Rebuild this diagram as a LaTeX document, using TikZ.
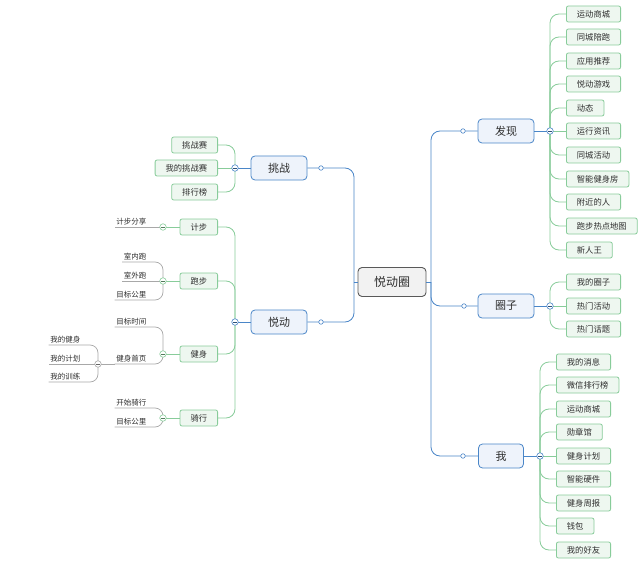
\documentclass[tikz,border=0pt]{standalone}
\usepackage{fontspec}
\setmainfont{Noto Sans CJK SC}
\usepackage{xcolor}
\usepackage{tikz}
\usetikzlibrary{positioning}

\definecolor{MapBlue}{HTML}{4A86C8}
\definecolor{BlueFill}{HTML}{EEF3FB}
\definecolor{MapGreen}{HTML}{88CC9A}
\definecolor{GreenFill}{HTML}{EEF7F0}
\definecolor{MapGray}{HTML}{A8A8A8}
\definecolor{TextGray}{HTML}{2E2E2E}

\tikzset{
	rootbox/.style={draw=black!65, fill=black!5, rounded corners=4pt, line width=0.9pt, text=TextGray,
		font=\fontsize{12}{12}\selectfont, inner xsep=16pt, minimum height=29pt},
	mainbox/.style={draw=MapBlue, fill=BlueFill, rounded corners=4pt, line width=0.8pt, text=TextGray,
		font=\fontsize{11}{11}\selectfont, inner xsep=17pt, minimum height=24pt},
	leafbox/.style={draw=MapGreen, fill=GreenFill, rounded corners=2pt, line width=0.8pt, text=TextGray,
		font=\fontsize{8.3}{8.3}\selectfont, inner xsep=10.5pt, minimum height=16pt},
	lined/.style={font=\fontsize{7.5}{7.5}\selectfont, inner sep=1.5pt, text=TextGray},
	blueline/.style={draw=MapBlue, line width=0.8pt, rounded corners=9pt},
	greenline/.style={draw=MapGreen, line width=0.8pt, rounded corners=9pt},
	grayline/.style={draw=MapGray, line width=0.7pt, rounded corners=8pt},
	knob/.style={circle, draw=#1, fill=white, line width=0.6pt, minimum size=6.5pt, inner sep=0pt,
		path picture={\draw[#1!60!black, line width=0.5pt]
			([xshift=-1.7pt]path picture bounding box.center) -- ([xshift=1.7pt]path picture bounding box.center);}},
	dot/.style={circle, draw=MapBlue, fill=white, line width=0.6pt, minimum size=4.5pt, inner sep=0pt},
}

\begin{document}
\begin{tikzpicture}[x=1pt, y=-1pt]

	\fill[white] (0,0) rectangle (640,567);
	\useasboundingbox (0,0) rectangle (640,567);

	% centre and main topics
	\node[rootbox] (root) at (392,282) {悦动圈};
	\node[mainbox] (faxian) at (506,131) {发现};
	\node[mainbox] (quanzi) at (506,306) {圈子};
	\node[mainbox] (wo) at (501,456) {我};
	\node[mainbox] (tiaozhan) at (279,168) {挑战};
	\node[mainbox] (yuedong) at (279,322) {悦动};

	\coordinate (rtrunk) at (431,282);
	\coordinate (ltrunk) at (354,282);

	% 发现
	\node[leafbox, anchor=west] (f1) at (566,14) {运动商城};
	\node[leafbox, anchor=west] (f2) at (566,37) {同城陪跑};
	\node[leafbox, anchor=west] (f3) at (566,61) {应用推荐};
	\node[leafbox, anchor=west] (f4) at (566,84) {悦动游戏};
	\node[leafbox, anchor=west] (f5) at (566,108) {动态};
	\node[leafbox, anchor=west] (f6) at (566,131) {运行资讯};
	\node[leafbox, anchor=west] (f7) at (566,155) {同城活动};
	\node[leafbox, anchor=west] (f8) at (566,179) {智能健身房};
	\node[leafbox, anchor=west] (f9) at (566,202) {附近的人};
	\node[leafbox, anchor=west] (f10) at (566,226) {跑步热点地图};
	\node[leafbox, anchor=west] (f11) at (566,250) {新人王};

	% 圈子
	\node[leafbox, anchor=west] (q1) at (566,282) {我的圈子};
	\node[leafbox, anchor=west] (q2) at (566,306) {热门活动};
	\node[leafbox, anchor=west] (q3) at (566,329) {热门话题};

	% 我
	\node[leafbox, anchor=west] (w1) at (556,362) {我的消息};
	\node[leafbox, anchor=west] (w2) at (556,385) {微信排行榜};
	\node[leafbox, anchor=west] (w3) at (556,409) {运动商城};
	\node[leafbox, anchor=west] (w4) at (556,432) {勋章馆};
	\node[leafbox, anchor=west] (w5) at (556,456) {健身计划};
	\node[leafbox, anchor=west] (w6) at (556,479) {智能硬件};
	\node[leafbox, anchor=west] (w7) at (556,503) {健身周报};
	\node[leafbox, anchor=west] (w8) at (556,526) {钱包};
	\node[leafbox, anchor=west] (w9) at (556,550) {我的好友};

	% 挑战
	\node[leafbox, anchor=east] (t1) at (218,145) {挑战赛};
	\node[leafbox, anchor=east] (t2) at (218,168) {我的挑战赛};
	\node[leafbox, anchor=east] (t3) at (218,192) {排行榜};

	% 悦动
	\node[leafbox, anchor=east] (jibu) at (218,227) {计步};
	\node[leafbox, anchor=east] (paobu) at (218,281) {跑步};
	\node[leafbox, anchor=east] (jianshen) at (218,354) {健身};
	\node[leafbox, anchor=east] (qixing) at (218,418) {骑行};

	% underlined sub-topics
	\node[lined, anchor=south east] (jbfx) at (148,227) {计步分享};
	\node[lined, anchor=south east] (snp) at (148,262) {室内跑};
	\node[lined, anchor=south east] (swp) at (148,281) {室外跑};
	\node[lined, anchor=south east] (mbgl) at (148,300) {目标公里};
	\node[lined, anchor=south east] (mbsj) at (148,327) {目标时间};
	\node[lined, anchor=south east] (jssy) at (148,364) {健身首页};
	\node[lined, anchor=south east] (wdjs) at (82,345) {我的健身};
	\node[lined, anchor=south east] (wdjh) at (82,364) {我的计划};
	\node[lined, anchor=south east] (wdxl) at (82,382) {我的训练};
	\node[lined, anchor=south east] (ksqx) at (148,408) {开始骑行};
	\node[lined, anchor=south east] (mbgl2) at (148,427) {目标公里};

	% knob places
	\coordinate (kfx) at (550,131);
	\coordinate (kqz) at (550,306);
	\coordinate (kwo) at (540,456);
	\coordinate (ktz) at (235,168);
	\coordinate (kyd) at (235,322);
	\coordinate (kjb) at (163,227);
	\coordinate (kpb) at (163,281);
	\coordinate (kjs) at (163,354);
	\coordinate (kqx) at (163,418);
	\coordinate (kjssy) at (98,364);

	% main connectors
	\draw[blueline] (root.east) -- (rtrunk);
	\draw[blueline] (rtrunk) |- (faxian.west);
	\draw[blueline] (rtrunk) |- (quanzi.west);
	\draw[blueline] (rtrunk) |- (wo.west);
	\draw[blueline] (root.west) -- (ltrunk);
	\draw[blueline] (ltrunk) |- (tiaozhan.east);
	\draw[blueline] (ltrunk) |- (yuedong.east);

	\draw[blueline] (faxian.east) -- (kfx);
	\draw[blueline] (quanzi.east) -- (kqz);
	\draw[blueline] (wo.east) -- (kwo);
	\draw[blueline] (tiaozhan.west) -- (ktz);
	\draw[blueline] (yuedong.west) -- (kyd);

	% green connectors
	\draw[greenline] (kfx) |- (f1.west);
	\draw[greenline] (kfx) |- (f2.west);
	\draw[greenline] (kfx) |- (f3.west);
	\draw[greenline] (kfx) |- (f4.west);
	\draw[greenline] (kfx) |- (f5.west);
	\draw[greenline] (kfx) -- (f6.west);
	\draw[greenline] (kfx) |- (f7.west);
	\draw[greenline] (kfx) |- (f8.west);
	\draw[greenline] (kfx) |- (f9.west);
	\draw[greenline] (kfx) |- (f10.west);
	\draw[greenline] (kfx) |- (f11.west);

	\draw[greenline] (kqz) |- (q1.west);
	\draw[greenline] (kqz) -- (q2.west);
	\draw[greenline] (kqz) |- (q3.west);

	\draw[greenline] (kwo) |- (w1.west);
	\draw[greenline] (kwo) |- (w2.west);
	\draw[greenline] (kwo) |- (w3.west);
	\draw[greenline] (kwo) |- (w4.west);
	\draw[greenline] (kwo) -- (w5.west);
	\draw[greenline] (kwo) |- (w6.west);
	\draw[greenline] (kwo) |- (w7.west);
	\draw[greenline] (kwo) |- (w8.west);
	\draw[greenline] (kwo) |- (w9.west);

	\draw[greenline] (ktz) |- (t1.east);
	\draw[greenline] (ktz) -- (t2.east);
	\draw[greenline] (ktz) |- (t3.east);

	\draw[greenline] (kyd) |- (jibu.east);
	\draw[greenline] (kyd) |- (paobu.east);
	\draw[greenline] (kyd) |- (jianshen.east);
	\draw[greenline] (kyd) |- (qixing.east);

	\draw[greenline] (jibu.west) -- (kjb);
	\draw[greenline] (paobu.west) -- (kpb);
	\draw[greenline] (jianshen.west) -- (kjs);
	\draw[greenline] (qixing.west) -- (kqx);

	% gray connectors
	\draw[grayline] (kjb) -- (jbfx.south west);
	\draw[grayline] (kpb) |- (snp.south west);
	\draw[grayline] (kpb) -- (swp.south west);
	\draw[grayline] (kpb) |- (mbgl.south west);
	\draw[grayline] (kjs) |- (mbsj.south west);
	\draw[grayline] (kjs) |- (jssy.south west);
	\draw[grayline] (jssy.south west) -- (kjssy);
	\draw[grayline] (kjssy) |- (wdjs.south west);
	\draw[grayline] (kjssy) -- (wdjh.south west);
	\draw[grayline] (kjssy) |- (wdxl.south west);
	\draw[grayline] (kqx) |- (ksqx.south west);
	\draw[grayline] (kqx) |- (mbgl2.south west);

	% knobs and dots
	\node[dot] (dfx) at (463,131) {};
	\node[dot] (dqz) at (464,306) {};
	\node[dot] (dwo) at (463,456) {};
	\node[dot] (dtz) at (321,168) {};
	\node[dot] (dyd) at (321,322) {};

	\node[knob=MapBlue] (ofx) at (kfx) {};
	\node[knob=MapBlue] (oqz) at (kqz) {};
	\node[knob=MapBlue] (owo) at (kwo) {};
	\node[knob=MapBlue] (otz) at (ktz) {};
	\node[knob=MapBlue] (oyd) at (kyd) {};
	\node[knob=MapGreen] (ojb) at (kjb) {};
	\node[knob=MapGreen] (opb) at (kpb) {};
	\node[knob=MapGreen] (ojs) at (kjs) {};
	\node[knob=MapGreen] (oqx) at (kqx) {};
	\node[knob=MapGray] (ojssy) at (kjssy) {};

\end{tikzpicture}
\end{document}
